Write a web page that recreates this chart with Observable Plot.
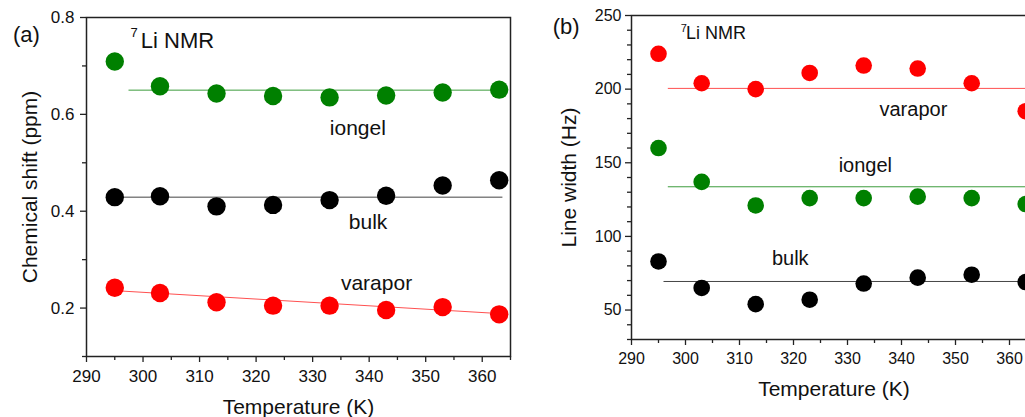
<!DOCTYPE html>
<html><head><meta charset="utf-8">
<script src="https://cdn.jsdelivr.net/npm/d3@7"></script>
<script src="https://cdn.jsdelivr.net/npm/@observablehq/plot@0.6"></script>
<style>
html,body{margin:0;padding:0;background:#fff;overflow:hidden;}
#wrap{position:relative;width:1025px;height:417px;overflow:hidden;background:#fff;}
.panel{position:absolute;top:0;}
</style></head><body><div id="wrap"></div>
<script>
// ---- data ----
const temperature = [295, 303, 313, 323, 333, 343, 353, 363];

// (a) chemical shift (ppm)
const shiftIongel  = [0.709, 0.658, 0.643, 0.638, 0.635, 0.639, 0.645, 0.651];
const shiftBulk    = [0.429, 0.431, 0.410, 0.413, 0.423, 0.432, 0.453, 0.464];
const shiftVarapor = [0.242, 0.231, 0.212, 0.205, 0.205, 0.196, 0.202, 0.187];
const fitShiftIongelT = [297.5, 364],  fitShiftIongelV = [0.650, 0.650];
const fitShiftBulkT   = [296.5, 363.5], fitShiftBulkV   = [0.429, 0.429];
const fitShiftVaraporT = [295, 364],   fitShiftVaraporV = [0.236, 0.188];

// (b) line width (Hz)
const widthVarapor = [224, 204, 200, 211, 216, 214, 204, 185];
const widthIongel  = [160, 137, 121, 126, 126, 127, 126, 122];
const widthBulk    = [83, 65, 54, 57, 68, 72, 74, 69];
const fitWidthVaraporT = [296.8, 366], fitWidthVaraporV = [200.5, 200.5];
const fitWidthIongelT  = [296.8, 366], fitWidthIongelV  = [133.7, 133.7];
const fitWidthBulkT    = [296, 366],   fitWidthBulkV    = [69.4, 69.4];

// ticks
const xMajor = [290, 300, 310, 320, 330, 340, 350, 360];
const xMinor = [295, 305, 315, 325, 335, 345, 355, 365];
const aYMajor = [0.2, 0.4, 0.6, 0.8];
const aYMinor = [0.1, 0.3, 0.5, 0.7];
const bYMajor = [50, 100, 150, 200, 250];
const bYMinor = [30, 40, 60, 70, 80, 90, 110, 120, 130, 140, 160, 170, 180, 190, 210, 220, 230, 240];

// annotations (data coordinates)
const aLabels = [
  {t: 338.0, v: 0.557, text: "iongel"},
  {t: 339.8, v: 0.364, text: "bulk"},
  {t: 341.3, v: 0.238, text: "varapor"}
];
const bLabels = [
  {t: 342.2, v: 182.0, text: "varapor"},
  {t: 333.3, v: 143.4, text: "iongel"},
  {t: 319.4, v: 80.4, text: "bulk"}
];

const rows = (vals) => temperature.map((t, i) => ({t, v: vals[i]}));
const fit = (T, V) => T.map((t, i) => ({t, v: V[i]}));

const FONT = "'Liberation Sans', Arial, sans-serif";
const GREEN = "#008000", RED = "#ff0000", BLACK = "#000000";

function axes(yMajor, yMinor, yFmt, fs, yPad) {
  return [
    Plot.axisX(xMajor, {tickSize: 6, tickPadding: 7, fontSize: fs, label: null, stroke: "#222", strokeWidth: 1.3, fill: "#111"}),
    Plot.axisX(xMinor, {tickSize: 4, tickFormat: () => "", label: null, stroke: "#222", strokeWidth: 1.3}),
    Plot.axisY(yMajor, {tickSize: 6, tickPadding: yPad, fontSize: fs, label: null, tickFormat: yFmt, stroke: "#222", strokeWidth: 1.3, fill: "#111"}),
    Plot.axisY(yMinor, {tickSize: 4, tickFormat: () => "", label: null, stroke: "#222", strokeWidth: 1.3}),
    Plot.frame({stroke: "#222", strokeWidth: 1.5})
  ];
}

const plotA = Plot.plot({
  width: 540, height: 417,
  marginLeft: 86, marginRight: 30, marginTop: 17, marginBottom: 61,
  style: {fontFamily: FONT, background: "transparent", overflow: "visible"},
  x: {domain: [290, 365]},
  y: {domain: [0.1, 0.8]},
  marks: [
    ...axes(aYMajor, aYMinor, d => d.toFixed(1), 17, 6),
    Plot.line(fit(fitShiftIongelT, fitShiftIongelV), {x: "t", y: "v", stroke: "#3c9c3c", strokeWidth: 1}),
    Plot.line(fit(fitShiftBulkT, fitShiftBulkV), {x: "t", y: "v", stroke: "#444", strokeWidth: 1}),
    Plot.line(fit(fitShiftVaraporT, fitShiftVaraporV), {x: "t", y: "v", stroke: "#ff5050", strokeWidth: 1}),
    Plot.dot(rows(shiftIongel), {x: "t", y: "v", r: 9.2, fill: GREEN}),
    Plot.dot(rows(shiftBulk), {x: "t", y: "v", r: 9.2, fill: BLACK}),
    Plot.dot(rows(shiftVarapor), {x: "t", y: "v", r: 9.2, fill: RED}),
    Plot.text(aLabels, {x: "t", y: "v", text: "text", fontSize: 21, textAnchor: "middle", lineAnchor: "bottom", fill: "#111"}),
    Plot.text(["7"], {x: 297.8, y: 0.760, text: d => d, fontSize: 13, textAnchor: "start", lineAnchor: "bottom", fill: "#111"}),
    Plot.text(["Li NMR"], {x: 299.6, y: 0.738, text: d => d, fontSize: 22, textAnchor: "start", lineAnchor: "bottom", fill: "#111"}),
    Plot.text(["(a)"], {x: 277.0, y: 0.749, text: d => d, fontSize: 22, textAnchor: "start", lineAnchor: "bottom", fill: "#111"}),
    Plot.text(["Temperature (K)"], {text: d => d, frameAnchor: "bottom", dy: 57, fontSize: 21, textAnchor: "middle", lineAnchor: "bottom", fill: "#111"}),
    Plot.text(["Chemical shift (ppm)"], {text: d => d, frameAnchor: "left", rotate: -90, dx: -49.3, fontSize: 21, textAnchor: "middle", lineAnchor: "bottom", fill: "#111"})
  ]
});

const plotB = Plot.plot({
  width: 540, height: 417,
  marginLeft: 91, marginRight: 44, marginTop: 15, marginBottom: 78,
  style: {fontFamily: FONT, background: "transparent", overflow: "visible"},
  x: {domain: [290, 365]},
  y: {domain: [30, 250]},
  marks: [
    ...axes(bYMajor, bYMinor, d => d, 16, 4),
    Plot.line(fit(fitWidthVaraporT, fitWidthVaraporV), {x: "t", y: "v", stroke: "#ff5050", strokeWidth: 1}),
    Plot.line(fit(fitWidthIongelT, fitWidthIongelV), {x: "t", y: "v", stroke: "#3c9c3c", strokeWidth: 1}),
    Plot.line(fit(fitWidthBulkT, fitWidthBulkV), {x: "t", y: "v", stroke: "#444", strokeWidth: 1}),
    Plot.dot(rows(widthVarapor), {x: "t", y: "v", r: 8.3, fill: RED}),
    Plot.dot(rows(widthIongel), {x: "t", y: "v", r: 8.3, fill: GREEN}),
    Plot.dot(rows(widthBulk), {x: "t", y: "v", r: 8.3, fill: BLACK}),
    Plot.text(bLabels, {x: "t", y: "v", text: "text", fontSize: 20, textAnchor: "middle", lineAnchor: "bottom", fill: "#111"}),
    Plot.text(["7"], {x: 299.1, y: 238.5, text: d => d, fontSize: 11, textAnchor: "start", lineAnchor: "bottom", fill: "#111"}),
    Plot.text(["Li NMR"], {x: 300.1, y: 234.0, text: d => d, fontSize: 18, textAnchor: "start", lineAnchor: "bottom", fill: "#111"}),
    Plot.text(["(b)"], {x: 275.4, y: 237.4, text: d => d, fontSize: 22, textAnchor: "start", lineAnchor: "bottom", fill: "#111"}),
    Plot.text(["Temperature (K)"], {text: d => d, frameAnchor: "bottom", dy: 56, fontSize: 21, textAnchor: "middle", lineAnchor: "bottom", fill: "#111"}),
    Plot.text(["Line width (Hz)"], {text: d => d, frameAnchor: "left", rotate: -90, dx: -56, fontSize: 21, textAnchor: "middle", lineAnchor: "bottom", fill: "#111"})
  ]
});

const wrap = document.getElementById("wrap");
plotA.classList.add("panel"); plotA.style.left = "0px";
plotB.classList.add("panel"); plotB.style.left = "540px";
wrap.appendChild(plotA);
wrap.appendChild(plotB);
</script>
</body></html>
